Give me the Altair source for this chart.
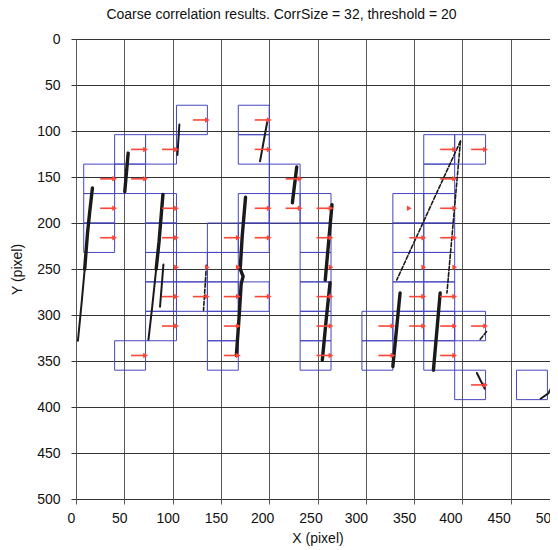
import altair as alt
import pandas as pd

TITLE = "Coarse correlation results. CorrSize = 32, threshold = 20"
TICKS = [0, 50, 100, 150, 200, 250, 300, 350, 400, 450, 500]
CORR_SIZE = 32

# correlation windows (top-left corner, pixel units) and arrow type per window
box_x = [8, 8, 8,
         40, 40, 40,
         72, 72, 72, 72, 72, 72,
         104, 104, 104,
         136, 136, 136, 136, 136,
         168, 168, 168, 168, 168,
         200, 200,
         232, 232, 232, 232, 232, 232,
         296, 296,
         328, 328, 328, 328, 328,
         360, 360, 360, 360, 360, 360, 360, 360,
         392, 392, 392,
         456]
box_y = [136, 168, 200,
         104, 136, 328,
         104, 168, 200, 232, 264, 296,
         72, 232, 264,
         200, 232, 264, 296, 328,
         72, 104, 168, 200, 264,
         136, 168,
         168, 200, 232, 264, 296, 328,
         296, 328,
         168, 200, 232, 264, 296,
         104, 136, 168, 200, 232, 264, 296, 328,
         104, 296, 360,
         360]
# F = full arrow, T = tip only, C = tip at centre, N = none
arrow_kind = ["F", "F", "F",
              "F", "F", "F",
              "F", "F", "F", "T", "F", "F",
              "F", "T", "F",
              "F", "T", "F", "F", "F",
              "F", "F", "F", "F", "F",
              "F", "F",
              "F", "F", "T", "F", "F", "F",
              "F", "F",
              "C", "F", "T", "F", "F",
              "F", "F", "F", "F", "T", "F", "F", "F",
              "F", "F", "F",
              "N"]

# streak traces
trace_x = [[17, 14, 12, 9], [9, 6, 2],
           [54, 50.5],
           [107, 105],
           [90, 86, 83], [83, 79, 75],
           [90.5, 87],
           [135, 132],
           [175.5, 172, 170, 173, 171, 169, 166],
           [198, 190.5],
           [228.5, 224],
           [265, 262, 258],
           [263, 259, 255],
           [398, 332],
           [398, 384],
           [335.5, 328],
           [377, 370],
           [425, 418],
           [415, 423],
           [481, 489, 495, 499, 502]]
trace_y = [[162, 190, 210, 250], [250, 285, 328],
           [124, 166],
           [93, 126],
           [169, 220, 250], [250, 290, 327],
           [245, 291],
           [246, 295],
           [172, 215, 250, 258, 266, 300, 344],
           [90, 133],
           [139, 178],
           [180, 215, 262],
           [265, 305, 349],
           [111, 262],
           [111, 276],
           [276, 356],
           [276, 360],
           [318, 327],
           [363, 380],
           [391, 385, 374, 360, 346]]
trace_style = ["thick", "medium",
               "thick",
               "medium",
               "thick", "medium",
               "medium",
               "dashed",
               "thick",
               "medium",
               "thick",
               "thick",
               "thick",
               "dashed",
               "dashed",
               "thick",
               "thick",
               "dashed",
               "medium",
               "medium"]

# ---------- tables ----------
boxes = pd.DataFrame({"x0": box_x, "y0": box_y, "kind": arrow_kind})
boxes["x1"] = boxes["x0"] + CORR_SIZE
boxes["y1"] = boxes["y0"] + CORR_SIZE
boxes["cy"] = boxes["y0"] + CORR_SIZE / 2

shafts = boxes[boxes["kind"] == "F"].copy()
shafts["xs"] = shafts["x0"] + 17
shafts["xe"] = shafts["x0"] + 31

heads = boxes[boxes["kind"].isin(["F", "T", "C"])].copy()
heads["xh"] = heads["x0"] + 32
heads.loc[heads["kind"] == "C", "xh"] = heads["x0"] + 17

rows = []
for i, (xs, ys, st) in enumerate(zip(trace_x, trace_y, trace_style)):
    for j, (xv, yv) in enumerate(zip(xs, ys)):
        rows.append({"tid": i, "ord": j, "x": xv, "y": yv, "style": st})
traces = pd.DataFrame(rows)

FONT = "Liberation Sans"
xscale = alt.Scale(domain=[0, 500], nice=False, zero=False)
yscale = alt.Scale(domain=[0, 500], nice=False, zero=False, reverse=True)
x_label_offset = {
    "condition": [
        {"test": "datum.value >= 400", "value": -12},
        {"test": "datum.value >= 300", "value": -10},
        {"test": "datum.value >= 200", "value": -7},
    ],
    "value": -5,
}
xaxis = alt.Axis(values=TICKS, title="X (pixel)", grid=True, gridColor="#5a5a5a",
                 gridWidth=1, domain=False, tickSize=5, tickColor="#5a5a5a",
                 labelFontSize=14, labelFont=FONT, labelColor="#111",
                 labelPadding=7, labelOffset=x_label_offset, labelFlush=False,
                 labelOverlap=False,
                 titleFont=FONT, titleFontSize=14, titleFontWeight="normal",
                 titleColor="#111", titlePadding=6)
yaxis = alt.Axis(values=TICKS, title="Y (pixel)", grid=True, gridColor="#333",
                 gridWidth=1.2, domain=False, tickSize=5, tickColor="#333",
                 labelFontSize=14, labelFont=FONT, labelColor="#111",
                 labelPadding=11, labelFlush=False, labelOverlap=False,
                 titleFont=FONT, titleFontSize=14, titleFontWeight="normal",
                 titleColor="#111", titlePadding=12)


def X(field):
    return alt.X(field, type="quantitative", scale=xscale, axis=xaxis)


def Y(field):
    return alt.Y(field, type="quantitative", scale=yscale, axis=yaxis)


rects = alt.Chart(boxes).mark_rect(
    fill="white", fillOpacity=0, stroke="#4646c0", strokeWidth=1, clip=True
).encode(x=X("x0"), x2="x1", y=Y("y0"), y2="y1")

trace_layers = []
for style, width, dash in [("thick", 3.4, None), ("medium", 2.0, None), ("dashed", 1.6, [4, 2])]:
    kw = dict(color="#1a1a1a", strokeWidth=width, clip=True, strokeCap="round")
    if dash:
        kw["strokeDash"] = dash
    trace_layers.append(
        alt.Chart(traces[traces["style"] == style]).mark_line(**kw).encode(
            x=X("x"), y=Y("y"), detail="tid:N", order="ord:Q")
    )

shaft_layer = alt.Chart(shafts).mark_rule(color="#ff4536", strokeWidth=1.6, clip=True).encode(
    x=X("xs"), x2="xe", y=Y("cy"))
head_layer = alt.Chart(heads).mark_point(
    shape="triangle-right", filled=True, color="#ff4536", size=30, opacity=1, clip=True
).encode(x=X("xh"), y=Y("cy"))

chart = alt.layer(rects, *trace_layers, shaft_layer, head_layer).properties(
    width=483, height=460,
    autosize=alt.AutoSizeParams(type="none"),
    padding={"left": 68, "top": 31, "right": -9, "bottom": 51},
    title=alt.TitleParams(TITLE, font=FONT, fontSize=14, fontWeight="normal",
                          color="#111", anchor="middle", dx=-36, frame="group", offset=10),
).configure_view(strokeOpacity=0).configure(background="white")

chart.save("out.html", embed_options={"renderer": "svg", "actions": False})
